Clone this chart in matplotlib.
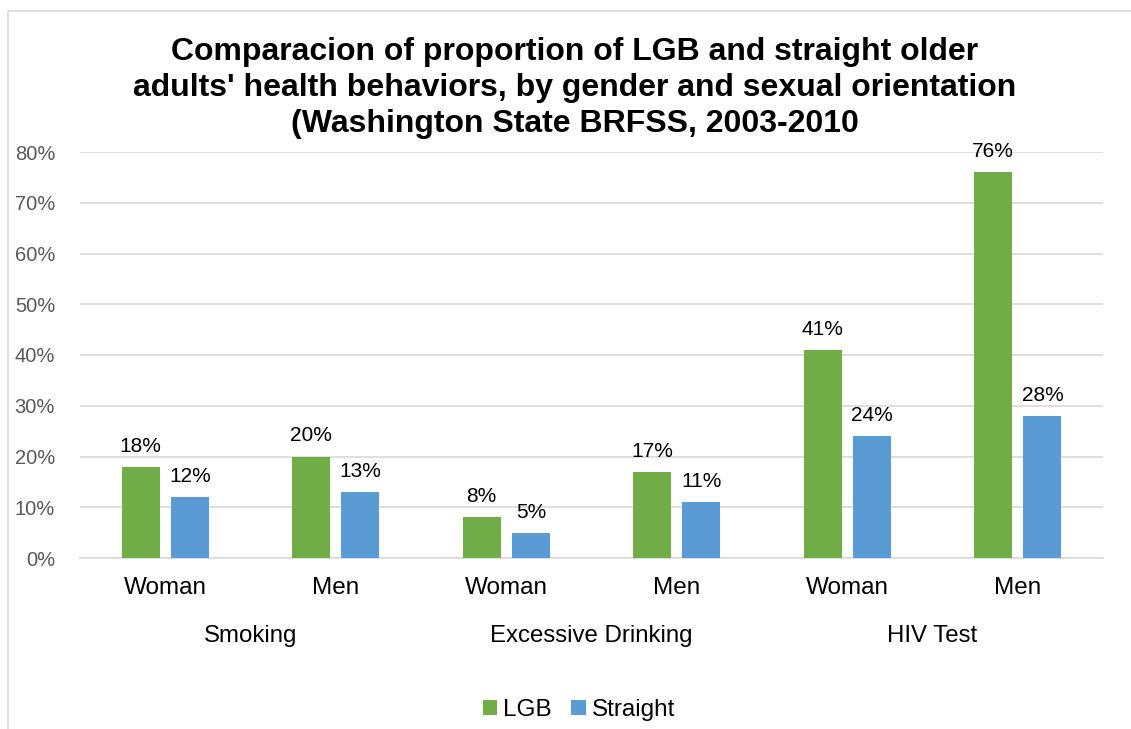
import numpy as np
import matplotlib.pyplot as plt
from matplotlib.patches import Rectangle

plt.rcParams['font.family'] = ['Liberation Sans', 'DejaVu Sans']

# data
behaviors = ['Smoking', 'Excessive Drinking', 'HIV Test']
genders = ['Woman', 'Men']
lgb = [0.18, 0.20, 0.08, 0.17, 0.41, 0.76]
straight = [0.12, 0.13, 0.05, 0.11, 0.24, 0.28]
yticks = [0, 0.1, 0.2, 0.3, 0.4, 0.5, 0.6, 0.7, 0.8]

green = '#70AD47'
blue = '#5B9BD5'
grid = '#D9D9D9'

fig = plt.figure(figsize=(11.31, 7.29), dpi=100)
# chart border (cropped at right/bottom like the screenshot)
fig.patches.append(Rectangle((8 / 1131, -0.1), 1.2, 1 - 11 / 729 + 0.1,
                             transform=fig.transFigure, fill=False,
                             edgecolor='#D9D9D9', lw=1.2))

ax = fig.add_axes([80 / 1131, 1 - 558 / 729, (1103 - 80) / 1131, (558 - 152) / 729])

x = np.arange(len(lgb))
w = 0.223
off = 0.145
b1 = ax.bar(x - off, lgb, w, color=green, zorder=3, label='LGB')
b2 = ax.bar(x + off, straight, w, color=blue, zorder=3, label='Straight')

for bars in (b1, b2):
    for r in bars:
        ax.annotate(f'{r.get_height() * 100:.0f}%',
                    (r.get_x() + r.get_width() / 2, r.get_height()),
                    xytext=(0, 8), textcoords='offset points',
                    ha='center', va='bottom', fontsize=15, color='#000000')

ax.set_xlim(-0.5, len(lgb) - 0.5)
ax.set_ylim(0, 0.8)
ax.set_yticks(yticks)
ax.set_yticklabels([f'{t * 100:.0f}%' for t in yticks], fontsize=14.5, color='#595959')
ax.yaxis.grid(True, color=grid, lw=1.2, zorder=0)
ax.tick_params(axis='y', length=0, pad=18)
ax.tick_params(axis='x', length=0, pad=14)
ax.set_xticks(x)
ax.set_xticklabels(genders * 3, fontsize=17.5, color='#000000')
for s in ['top', 'right', 'left']:
    ax.spines[s].set_visible(False)
ax.spines['bottom'].set_color(grid)
ax.spines['bottom'].set_linewidth(1.2)

for i, b in enumerate(behaviors):
    ax.text(2 * i + 0.5, -(636 - 558) / (558 - 152), b, transform=ax.get_xaxis_transform(),
            ha='center', va='center', fontsize=17.3)

fig.text(0.508, 1 - 88 / 729,
         "Comparacion of proportion of LGB and straight older\n"
         "adults' health behaviors, by gender and sexual orientation\n"
         "(Washington State BRFSS, 2003-2010",
         ha='center', va='center', fontsize=23, fontweight='bold',
         linespacing=1.25)

fig.legend(handles=[b1, b2], loc='center', bbox_to_anchor=(0.512, 1 - 710 / 729),
           ncol=2, frameon=False, fontsize=17.5, handlelength=0.6, handleheight=0.6,
           handletextpad=0.25, columnspacing=0.8)

fig.savefig('out.png', dpi=100)
